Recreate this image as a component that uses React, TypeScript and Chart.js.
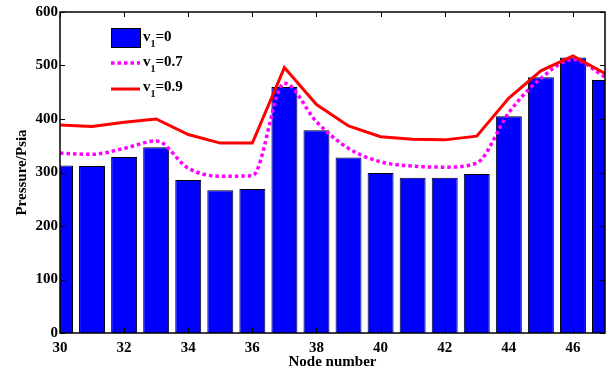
import React, { useEffect, useRef } from "react";
import { Chart, registerables } from "chart.js";

Chart.register(...registerables);

const nodes = [30, 31, 32, 33, 34, 35, 36, 37, 38, 39, 40, 41, 42, 43, 44, 45, 46, 47];
const v0 = [313, 312, 329, 347, 286, 267, 269, 460, 379, 328, 299, 290, 290, 297, 405, 478, 515, 473];
const v07 = [336, 334, 345, 359, 308, 293, 294, 467, 395, 345, 320, 312, 310, 318, 412, 476, 511, 479];
const v09 = [389, 386, 394, 400, 371, 355, 355, 496, 427, 387, 367, 362, 361, 368, 439, 490, 518, 485];
const xTicks = [30, 32, 34, 36, 38, 40, 42, 44, 46];
const yTicks = [0, 100, 200, 300, 400, 500, 600];
const legendLabels = ["0", "0.7", "0.9"];

const FONT = "'Liberation Serif', 'Times New Roman', serif";

const framePlugin = {
  id: "frame",
  afterDatasetsDraw(chart: any) {
    const { ctx, chartArea: a, scales } = chart;
    ctx.save();
    ctx.strokeStyle = "#000";
    ctx.lineWidth = 1.5;
    ctx.strokeRect(a.left, a.top, a.right - a.left, a.bottom - a.top);
    ctx.lineWidth = 1;
    ctx.beginPath();
    for (const v of xTicks) {
      const x = Math.round(scales.x.getPixelForValue(v)) + 0.5;
      ctx.moveTo(x, a.bottom);
      ctx.lineTo(x, a.bottom - 5);
      ctx.moveTo(x, a.top);
      ctx.lineTo(x, a.top + 5);
    }
    for (const v of yTicks) {
      const y = Math.round(scales.y.getPixelForValue(v)) + 0.5;
      ctx.moveTo(a.left, y);
      ctx.lineTo(a.left + 5, y);
      ctx.moveTo(a.right, y);
      ctx.lineTo(a.right - 5, y);
    }
    ctx.stroke();
    ctx.restore();
  },
  afterDraw(chart: any) {
    const { ctx } = chart;
    ctx.save();
    const x0 = 111;
    const x1 = 140;
    const centers = [37, 63, 89];
    // symbols
    ctx.fillStyle = "#0000ff";
    ctx.fillRect(x0, 28, x1 - x0, 19);
    ctx.strokeStyle = "#000";
    ctx.lineWidth = 1;
    ctx.strokeRect(x0 + 0.5, 28.5, x1 - x0, 19);
    ctx.strokeStyle = "#ff00ff";
    ctx.lineWidth = 3.5;
    ctx.setLineDash([3.5, 3]);
    ctx.beginPath();
    ctx.moveTo(x0, centers[1]);
    ctx.lineTo(x1, centers[1]);
    ctx.stroke();
    ctx.setLineDash([]);
    ctx.strokeStyle = "#ff0000";
    ctx.lineWidth = 3;
    ctx.beginPath();
    ctx.moveTo(x0, centers[2]);
    ctx.lineTo(x1, centers[2]);
    ctx.stroke();
    // labels
    ctx.fillStyle = "#000";
    ctx.textBaseline = "alphabetic";
    ctx.textAlign = "left";
    const baselines = [41, 66, 91];
    legendLabels.forEach((lab, i) => {
      let x = 143;
      const b = baselines[i];
      ctx.font = `bold 15px ${FONT}`;
      ctx.fillText("v", x, b);
      x += ctx.measureText("v").width;
      ctx.font = `bold 10px ${FONT}`;
      ctx.fillText("1", x, b + 6);
      x += ctx.measureText("1").width;
      ctx.font = `bold 15px ${FONT}`;
      ctx.fillText("=" + lab, x, b);
    });
    ctx.restore();
  },
};

export default function App() {
  const ref = useRef<HTMLCanvasElement | null>(null);
  useEffect(() => {
    if (!ref.current) return;
    const chart = new Chart(ref.current, {
      type: "bar",
      data: {
        datasets: [
          {
            type: "line",
            label: "v1=0.9",
            data: nodes.map((n, i) => ({ x: n, y: v09[i] })),
            borderColor: "#ff0000",
            borderWidth: 3,
            pointRadius: 0,
            tension: 0,
            order: 1,
          } as any,
          {
            type: "line",
            label: "v1=0.7",
            data: nodes.map((n, i) => ({ x: n, y: v07[i] })),
            borderColor: "#ff00ff",
            borderWidth: 3.5,
            borderDash: [3.5, 3],
            pointRadius: 0,
            cubicInterpolationMode: "monotone",
            order: 2,
          } as any,
          {
            type: "bar",
            label: "v1=0",
            data: nodes.map((n, i) => ({ x: n, y: v0[i] })),
            backgroundColor: "#0000ff",
            borderColor: "#000000",
            borderWidth: 1,
            barPercentage: 0.81,
            categoryPercentage: 1,
            order: 3,
          } as any,
        ],
      },
      options: {
        responsive: false,
        animation: false,
        layout: { padding: { left: 0, right: 4, top: 12, bottom: 0 } },
        plugins: { legend: { display: false }, tooltip: { enabled: false } },
        scales: {
          x: {
            type: "linear",
            min: 30,
            max: 47,
            offset: false,
            grid: { display: false, drawTicks: false },
            border: { display: false },
            ticks: {
              font: { family: FONT, size: 15, weight: "bold" },
              color: "#000",
              padding: 6,
              maxRotation: 0,
              autoSkip: false,
              includeBounds: false,
            },
            afterBuildTicks: (s: any) => {
              s.ticks = xTicks.map((v) => ({ value: v }));
            },
            afterFit: (s: any) => {
              s.height = 40;
            },
            title: {
              display: true,
              text: "Node number",
              color: "#000",
              font: { family: FONT, size: 15, weight: "bold" },
              padding: { top: 0, bottom: 1.5 },
            },
          },
          y: {
            min: 0,
            max: 600,
            grid: { display: false, drawTicks: false },
            border: { display: false },
            ticks: {
              stepSize: 100,
              font: { family: FONT, size: 15, weight: "bold" },
              color: "#000",
              padding: 2,
            },
            afterBuildTicks: (s: any) => {
              s.ticks = yTicks.map((v) => ({ value: v }));
            },
            afterFit: (s: any) => {
              s.width = 60;
            },
            title: {
              display: true,
              text: "Pressure/Psia",
              color: "#000",
              font: { family: FONT, size: 15, weight: "bold" },
              padding: { top: 13, bottom: 0 },
            },
          },
        },
      } as any,
      plugins: [framePlugin],
    });
    return () => chart.destroy();
  }, []);
  return (
    <div style={{ position: "fixed", left: 0, top: 0, width: 609, height: 373, background: "#fff" }}>
      <canvas ref={ref} width={609} height={373} style={{ width: 609, height: 373 }} />
    </div>
  );
}
